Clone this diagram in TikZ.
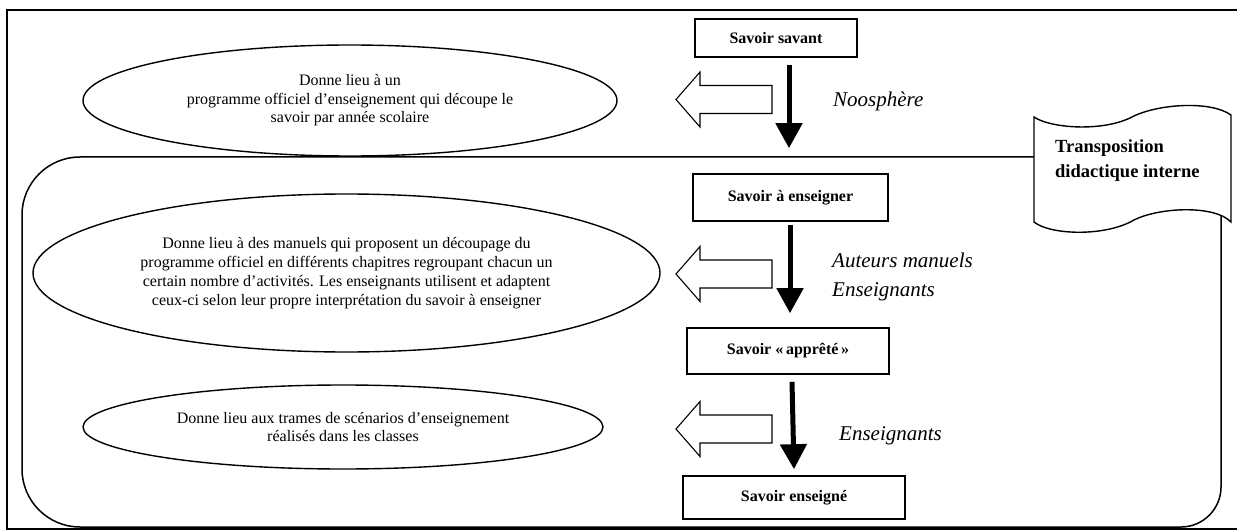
\documentclass[tikz,border=0pt]{standalone}
\usepackage{fontspec}
\setmainfont{Liberation Serif}
\usetikzlibrary{arrows.meta,shapes.geometric}
\tikzset{
  frameline/.style={line width=1.8pt},
  container/.style={line width=1.5pt},
  ell/.style={ellipse, draw, line width=1.4pt, inner sep=0pt, align=center,
    font=\fontsize{16}{18.5}\selectfont},
  box/.style={rectangle, draw, line width=1.6pt, inner sep=0pt,
    font=\fontsize{16}{19}\selectfont\bfseries},
  actor/.style={anchor=base west, inner sep=0pt, font=\fontsize{21}{29}\selectfont\itshape},
  bigarr/.style={line width=5pt, -{Triangle[width=26pt,length=25pt]}},
  hollow/.style={draw, line width=1.1pt, fill=white, line join=miter},
  tapeshape/.style={draw, line width=1.4pt, fill=white},
  hollowarr/.pic={\draw[hollow] (0,0) -- (24,27.5) -- (24,14) -- (96,14) -- (96,-14) -- (24,-14) -- (24,-27.5) -- cycle;}
}
\begin{document}
\begin{tikzpicture}[x=1pt,y=-1pt]
\useasboundingbox (0,0) rectangle (1237,532);
\clip (0,0) rectangle (1237,532);
\fill[white] (0,0) rectangle (1237,532);
% outer frame (right side beyond the page)
\draw[frameline] (7,10) rectangle (1250,529);
% inner rounded container
\draw[container] (22,215) .. controls (22,183) and (48,157) .. (80,157)
  -- (1181,157) .. controls (1203,157) and (1221,175) .. (1221,197)
  -- (1221,487) .. controls (1221,509) and (1203,527) .. (1181,527)
  -- (80,527) .. controls (48,527) and (22,501) .. (22,469) -- cycle;
% tape shape
\draw[tapeshape] (1034,117) .. controls (1050,128) and (1100,132) .. (1130,118)
  .. controls (1155,104) and (1210,100) .. (1231,115)
  -- (1231,222) .. controls (1215,205) and (1160,207) .. (1134,220)
  .. controls (1105,237) and (1050,235) .. (1034,222) -- cycle;
\node[anchor=base west, inner sep=0pt, align=left,
  font=\fontsize{18.5}{25}\selectfont\bfseries] (tdi) at (1055,178)
  {Transposition\\didactique interne};
% boxes
\node[box, minimum width=162pt, minimum height=38pt] (savant) at (776,38) {Savoir savant};
\node[box, minimum width=195pt, minimum height=47pt] (enseigner) at (790.5,197.5) {Savoir à enseigner};
\node[box, minimum width=202pt, minimum height=46pt] (apprete) at (788,351) {Savoir «\,apprêté\,»};
\node[box, minimum width=222pt, minimum height=43pt] (enseigne) at (794,497.5) {Savoir enseigné};
% ellipses
\node[ell, minimum width=534pt, minimum height=111pt] (e1) at (350,100.5)
  {Donne lieu à un\\programme officiel d’enseignement qui découpe le\\savoir par année scolaire};
\node[ell, minimum width=627pt, minimum height=158pt, font=\fontsize{16}{19}\selectfont] (e2) at (346.5,273)
  {Donne lieu à des manuels qui proposent un découpage du\\programme officiel en différents chapitres regroupant chacun un\\certain nombre d’activités. Les enseignants utilisent et adaptent\\ceux-ci selon leur propre interprétation du savoir à enseigner};
\node[ell, minimum width=520pt, minimum height=84pt] (e3) at (343,427)
  {Donne lieu aux trames de scénarios d’enseignement\\réalisés dans les classes};
% hollow arrows
\pic at (676,99.5) {hollowarr};
\pic at (676,274) {hollowarr};
\pic at (676,429) {hollowarr};
% black arrows
\draw[bigarr] ([xshift=13pt,yshift=-7pt]savant.south) -- ([xshift=-1.5pt,yshift=25pt]enseigner.north);
\draw[bigarr] ([xshift=-0.5pt,yshift=-3pt]enseigner.south) -- ([xshift=2pt,yshift=14pt]apprete.north);
\draw[bigarr] ([xshift=4pt,yshift=-7pt]apprete.south) -- ([xshift=0pt,yshift=6pt]enseigne.north);
% actor labels
\node[actor] (noo) at (833,107) {Noosphère};
\node[actor] (aut) at (832,267) {Auteurs manuels};
\node[actor] (ens1) at (832,296) {Enseignants};
\node[actor] (ens2) at (839,440) {Enseignants};
\end{tikzpicture}
\end{document}
